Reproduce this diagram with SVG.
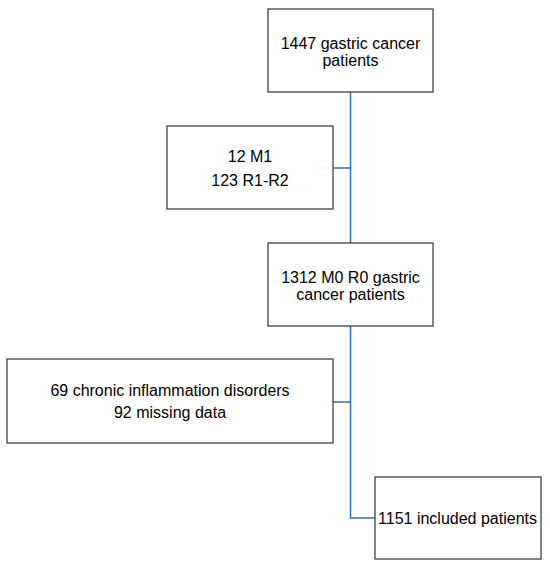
<svg xmlns="http://www.w3.org/2000/svg" width="550" height="572" viewBox="0 0 550 572">
<style>
.box{fill:#fff;stroke:#333;stroke-width:1.2}
.t{font-family:"Liberation Sans",Arial,sans-serif;font-size:16px;fill:#000;text-anchor:middle}
.c{fill:none;stroke:#2f6db3;stroke-width:1.5}
</style>
<rect width="550" height="572" fill="#fff"/>
<g id="connectors">
<path class="c" d="M350.5 92 V518 H375"/>
<path class="c" d="M333 168 H350.5"/>
<path class="c" d="M333 402 H350.5"/>
</g>
<g id="n1"><rect class="box" x="268" y="9" width="165" height="83"/><text class="t" x="350.5" y="49">1447 gastric cancer</text><text class="t" x="350.5" y="66">patients</text></g>
<g id="n2"><rect class="box" x="167" y="126" width="166" height="83"/><text class="t" x="250" y="162">12 M1</text><text class="t" x="250" y="186">123 R1-R2</text></g>
<g id="n3"><rect class="box" x="268" y="243" width="165" height="83"/><text class="t" x="350.5" y="283">1312 M0 R0 gastric</text><text class="t" x="350.5" y="300">cancer patients</text></g>
<g id="n4"><rect class="box" x="7" y="359" width="326" height="84"/><text class="t" x="170" y="396">69 chronic inflammation disorders</text><text class="t" x="170" y="418">92 missing data</text></g>
<g id="n5"><rect class="box" x="375" y="477" width="166" height="82"/><text class="t" x="457.5" y="524">1151 included patients</text></g>
</svg>
